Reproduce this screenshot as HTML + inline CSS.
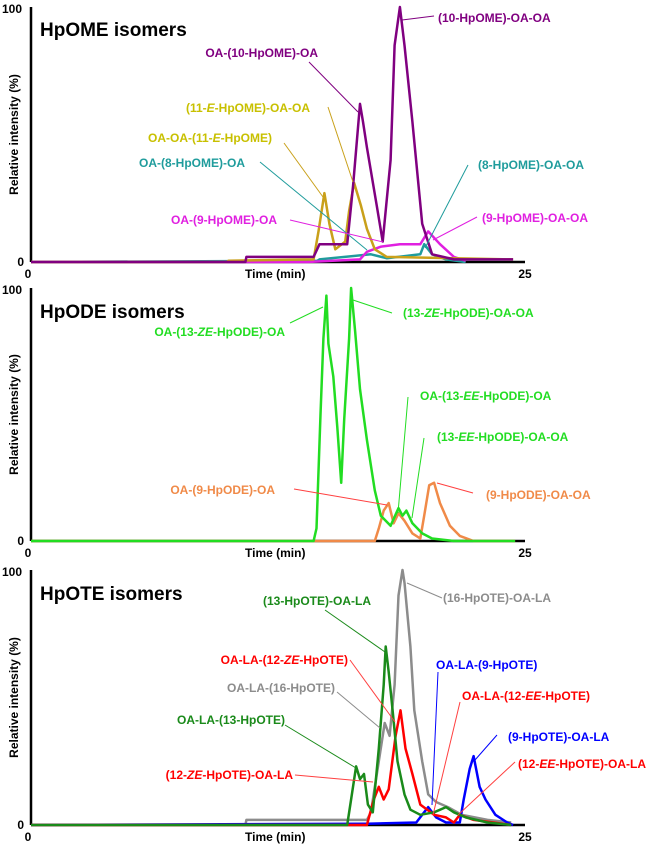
<!DOCTYPE html>
<html><head><meta charset="utf-8"><style>
body{margin:0;background:#fff}
svg{display:block;font-family:"Liberation Sans",sans-serif;font-weight:bold}
</style></head><body>
<svg id="c" width="660" height="849" viewBox="0 0 660 849"></svg>
<script>
// ---- Data (time in min, relative intensity %) ----
const p1PurpleT=[0,10.85,10.9,12.9,14.3,14.6,16.0,16.3,16.65,16.8,17.0,17.5,17.8,18.2,18.4,18.67,18.9,19.3,19.8,20.3,21.4,24.4];
const p1PurpleV=[0,0,2,2,2,7,7,30,62,55,45,22,8,40,85,100,85,55,15,3,1,1];
const p1GoldT=[0,9.9,10,14.3,14.55,14.85,15.1,15.4,15.9,16.1,16.35,16.7,17.0,17.4,18.0,24.4];
const p1GoldV=[0,0,0.5,1,12,27,15,5,8,20,31,22,13,5,2,1];
const p1MagT=[0,14,16.65,17.0,17.7,18.67,19.7,20.1,20.7,21.4,22];
const p1MagV=[0,0,1,4,6,7,7,12,7,2,0.5];
const p1TealT=[0,14.5,14.6,17.2,18.0,19.7,19.9,20.3,21.0,22];
const p1TealV=[0,0.5,1,3,1.5,3,7,3,1,0];
const p2GreenT=[0,14.3,14.45,14.65,14.8,14.95,15.05,15.3,15.5,15.7,15.85,16.1,16.2,16.4,16.65,17.0,17.4,17.7,18.2,18.6,18.8,19.0,19.3,19.8,20.3,21.4,24.5];
const p2GreenV=[0,0,5,50,80,97,78,65,45,23,48,80,100,83,60,40,20,10,6,13,10,12,7,3,1,0,0];
const p2OrangeT=[0,17.4,17.6,17.85,18.1,18.35,18.6,18.9,19.3,19.7,19.9,20.15,20.4,20.7,21.2,21.7,22.4,24.5];
const p2OrangeV=[0,0,5,12,15,7,11,8,3,1,10,22,23,15,6,2,0,0];
const p3GrayT=[0,10.85,10.9,17.0,17.2,17.6,17.9,18.15,18.4,18.6,18.8,18.9,19.2,19.4,19.8,20.1,20.5,21.1,21.8,23.1,24.3];
const p3GrayV=[0,0,2,2,5,25,40,35,55,90,100,95,70,45,25,12,9,7,4,2,1];
const p3GreenT=[0,16.0,16.2,16.45,16.65,16.85,17.05,17.3,17.6,17.85,17.95,18.1,18.3,18.55,18.9,19.2,19.7,20.4,21.0,21.4,22.0,23.1,24.3];
const p3GreenV=[0,0,10,23,18,20,8,5,30,55,70,60,45,25,12,6,4,5,7,5,3,1,0];
const p3RedT=[0,17.0,17.35,17.6,17.85,18.1,18.45,18.7,18.95,19.3,19.7,20.4,21.0,21.4,21.7,22.4,23.4,24.3];
const p3RedV=[0,0,10,15,10,14,35,45,30,20,8,4,3,1,4,2,1,0];
const p3BlueT=[0,17.0,19.5,19.8,20.1,20.5,21.0,21.7,21.9,22.2,22.4,22.7,23.0,23.5,24.1,24.4];
const p3BlueV=[0,0.5,1,4,7,3,1,1,10,22,27,15,10,4,1,0];

const NS='http://www.w3.org/2000/svg';
const svg=document.getElementById('c');
function el(tag,attrs,parent){const e=document.createElementNS(NS,tag);for(const k in attrs)e.setAttribute(k,attrs[k]);(parent||svg).appendChild(e);return e;}
const X0=31,X1=525,TMAX=25;
function xs(t){return X0+(t/TMAX)*(X1-X0);}
const panels=[{top:7,base:262,title:'HpOME isomers',ty:36},{top:288,base:541,title:'HpODE isomers',ty:318},{top:570,base:825,title:'HpOTE isomers',ty:600}];
function ys(p,v){return p.base-(v/100)*(p.base-p.top);}

panels.forEach((p,i)=>{
  const g=el('g',{});
  
  
  const ya=el('line',{x1:X0,y1:p.top,x2:X0,y2:p.base,stroke:'#000','stroke-width':2.5},g);
  
  
  const xa=el('line',{x1:X0,y1:p.base,x2:X1,y2:p.base,stroke:'#000','stroke-width':2.5},g);
  
  
  const t100=el('text',{x:22,y:p.top+6,'font-size':12,'text-anchor':'end'},g);t100.textContent='100';
  
  
  const t0=el('text',{x:24,y:p.base+4,'font-size':12,'text-anchor':'end'},g);t0.textContent='0';
  
  
  const x0=el('text',{x:X0-3,y:p.base+16,'font-size':12,'text-anchor':'middle'},g);x0.textContent='0';
  
  
  const x25=el('text',{x:X1,y:p.base+16,'font-size':12,'text-anchor':'middle'},g);x25.textContent='25';
  
  
  const xt=el('text',{x:245,y:p.base+16,'font-size':12},g);xt.textContent='Time (min)';
  
  
  const cy=(p.top+p.base)/2;
  const yt=el('text',{x:0,y:0,'font-size':12,'text-anchor':'middle',transform:'translate(18,'+cy+') rotate(-90)'},g);yt.textContent='Relative intensity (%)';
  
  
  const tt=el('text',{x:40,y:p.ty,'font-size':19},g);tt.textContent=p.title;
  
  
});

function series(pi,T,V,color,name){
  const p=panels[pi];
  const pts=T.map((t,i)=>xs(t).toFixed(1)+','+ys(p,V[i]).toFixed(1)).join(' ');
  const pl=el('polyline',{points:pts,fill:'none',stroke:color,'stroke-width':2.5,'stroke-linejoin':'round'});
  
  
}
series(0,p1TealT,p1TealV,'#1f9c9c','trace-8-hpome');
series(0,p1MagT,p1MagV,'#e020e0','trace-9-hpome');
series(0,p1GoldT,p1GoldV,'#c9a01a','trace-11e-hpome');
series(0,p1PurpleT,p1PurpleV,'#800080','trace-10-hpome');
series(1,p2OrangeT,p2OrangeV,'#f08a48','trace-9-hpode');
series(1,p2GreenT,p2GreenV,'#22dd22','trace-13-hpode');
series(2,p3GrayT,p3GrayV,'#8c8c8c','trace-16-hpote');
series(2,p3BlueT,p3BlueV,'#0000ff','trace-9-hpote');
series(2,p3RedT,p3RedV,'#ff0000','trace-12-hpote');
series(2,p3GreenT,p3GreenV,'#1a8a1a','trace-13-hpote');

const labels=[
 ['(10-HpOME)-OA-OA',438,22,'start','#800080',402,20,434,16,'#800080'],
 ['OA-(10-HpOME)-OA',318,57,'end','#800080',309,62,358,112,'#800080'],
 ['(11-<tspan font-style="italic">E</tspan>-HpOME)-OA-OA',310,112,'end','#c8c000',328,107,353,182,'#c9a01a'],
 ['OA-OA-(11-<tspan font-style="italic">E</tspan>-HpOME)',272,142,'end','#c8c000',284,143,323,197,'#c9a01a'],
 ['OA-(8-HpOME)-OA',245,167,'end','#1f9c9c',260,162,367,250,'#1f9c9c'],
 ['(8-HpOME)-OA-OA',478,169,'start','#1f9c9c',468,165,425,248,'#1f9c9c'],
 ['OA-(9-HpOME)-OA',277,224,'end','#e020e0',290,220,383,242,'#e020e0'],
 ['(9-HpOME)-OA-OA',482,222,'start','#e020e0',477,217,433,240,'#e020e0'],
 ['OA-(13-<tspan font-style="italic">ZE</tspan>-HpODE)-OA',285,336,'end','#22dd22',290,323,323,307,'#22dd22'],
 ['(13-<tspan font-style="italic">ZE</tspan>-HpODE)-OA-OA',403,317,'start','#22dd22',353,300,392,313,'#22dd22'],
 ['OA-(13-<tspan font-style="italic">EE</tspan>-HpODE)-OA',420,400,'start','#22dd22',408,397,398,513,'#22dd22'],
 ['(13-<tspan font-style="italic">EE</tspan>-HpODE)-OA-OA',437,441,'start','#22dd22',424,438,412,518,'#22dd22'],
 ['OA-(9-HpODE)-OA',275,494,'end','#f08a48',294,489,387,505,'#ff4040'],
 ['(9-HpODE)-OA-OA',486,499,'start','#f08a48',473,493,437,483,'#ff4040'],
 ['(13-HpOTE)-OA-LA',263,605,'start','#1a8a1a',325,610,385,652,'#1a8a1a'],
 ['(16-HpOTE)-OA-LA',443,602,'start','#8c8c8c',407,583,442,598,'#8c8c8c'],
 ['OA-LA-(12-<tspan font-style="italic">ZE</tspan>-HpOTE)',348,664,'end','#ff0000',350,660,395,722,'#ff4040'],
 ['OA-LA-(16-HpOTE)',335,692,'end','#8c8c8c',337,692,380,728,'#8c8c8c'],
 ['OA-LA-(9-HpOTE)',436,669,'start','#0000ff',438,672,432,805,'#0000ff'],
 ['OA-LA-(12-<tspan font-style="italic">EE</tspan>-HpOTE)',462,700,'start','#ff0000',460,702,433,815,'#ff4040'],
 ['OA-LA-(13-HpOTE)',285,724,'end','#1a8a1a',285,725,356,768,'#1a8a1a'],
 ['(9-HpOTE)-OA-LA',508,741,'start','#0000ff',497,735,475,760,'#0000ff'],
 ['(12-<tspan font-style="italic">ZE</tspan>-HpOTE)-OA-LA',293,779,'end','#ff0000',295,775,373,782,'#ff4040'],
 ['(12-<tspan font-style="italic">EE</tspan>-HpOTE)-OA-LA',518,768,'start','#ff0000',515,762,458,815,'#ff4040']
];
labels.forEach(l=>{
  const ln=el('line',{x1:l[5],y1:l[6],x2:l[7],y2:l[8],stroke:l[9],'stroke-width':1});
  
  
  const t=el('text',{x:l[1],y:l[2],'font-size':12,'text-anchor':l[3],fill:l[4]});
  t.innerHTML=l[0];
  
  
});
</script>
</body></html>
